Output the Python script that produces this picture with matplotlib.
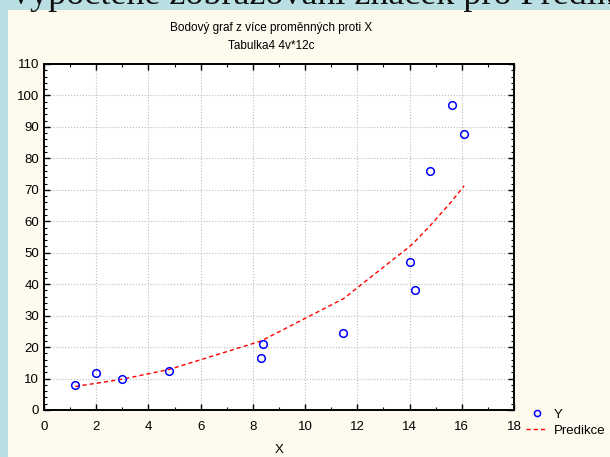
"""
Scatter of Y against X with the exponential prediction curve
"""
import matplotlib.pyplot as plt
from matplotlib.patches import Rectangle
from matplotlib.ticker import MultipleLocator

# data
x_vals = [1.2, 2.0, 3.0, 4.8, 8.3, 8.4, 11.47, 14.02, 14.21, 14.8, 15.62, 16.09]
y_vals = [7.9, 11.8, 9.9, 12.4, 16.4, 21.0, 24.6, 47.0, 38.2, 76.0, 97.0, 87.7]
pred_vals = [7.5, 8.5, 9.8, 12.9, 21.9, 22.3, 35.4, 52.1, 53.6, 58.7, 66.4, 71.3]

title_lines = ["Bodový graf z více proměnných proti X", "Tabulka4 4v*12c"]
slide_title = "Vypočtené zobrazování značek pro Predikci"
legend_labels = ["Y", "Predikce"]

plt.rcParams['font.family'] = ['Liberation Sans', 'DejaVu Sans']

fig = plt.figure(figsize=(6.1, 4.57), dpi=100)
fig.patch.set_facecolor('#b9dfe3')

# cream panel behind the chart
fig.patches.append(Rectangle((8 / 610, 0), 1, 1 - 10 / 457, transform=fig.transFigure,
                             facecolor='#fffaee', edgecolor='none', zorder=-5))

# slide title, cut off at the top edge
fig.text(8 / 610, 1 - 4 / 457, slide_title, fontsize=26, family='Liberation Serif',
         ha='left', va='baseline', color='#111111', zorder=-4)

ax = fig.add_axes([44 / 610, 47 / 457, 470 / 610, 346 / 457])
ax.set_zorder(2)
ax.set_facecolor('white')

ax.plot(x_vals, pred_vals, color='red', linestyle=(0, (3, 2.2)), linewidth=1.0,
        label=legend_labels[1], zorder=3)
ax.plot(x_vals, y_vals, linestyle='none', marker='o', markersize=5.5,
        markerfacecolor='none', markeredgecolor='blue', markeredgewidth=1.1,
        label=legend_labels[0], zorder=4)

ax.set_xlim(0, 18)
ax.set_ylim(0, 110)
ax.xaxis.set_major_locator(MultipleLocator(2))
ax.xaxis.set_minor_locator(MultipleLocator(1))
ax.yaxis.set_major_locator(MultipleLocator(10))
ax.yaxis.set_minor_locator(MultipleLocator(2))

ax.grid(True, which='major', color='#bbbbbb', linestyle=':', linewidth=0.8)
for side in ax.spines.values():
    side.set_linewidth(1.4)
    side.set_color('black')

ax.tick_params(which='both', top=True, right=True, direction='in', labelsize=9.5)
ax.tick_params(which='major', length=4, width=1)
ax.tick_params(which='minor', length=2, width=0.8)
ax.tick_params(axis='x', which='major', pad=8)

ax.set_xlabel("X", fontsize=9.5, labelpad=8)

fig.text(0.445, 1 - 28 / 457, title_lines[0], fontsize=8.5, ha='center', va='center')
fig.text(0.445, 1 - 46 / 457, title_lines[1], fontsize=8.5, ha='center', va='center')

handles, labels = ax.get_legend_handles_labels()
leg = fig.legend(handles[::-1], labels[::-1], loc='lower left',
                 bbox_to_anchor=(521 / 610, 15 / 457), frameon=False,
                 fontsize=9.5, handlelength=1.6, handletextpad=0.5,
                 labelspacing=0.3, borderaxespad=0, markerscale=0.8)

fig.savefig('out.png', dpi=100, facecolor=fig.get_facecolor())
